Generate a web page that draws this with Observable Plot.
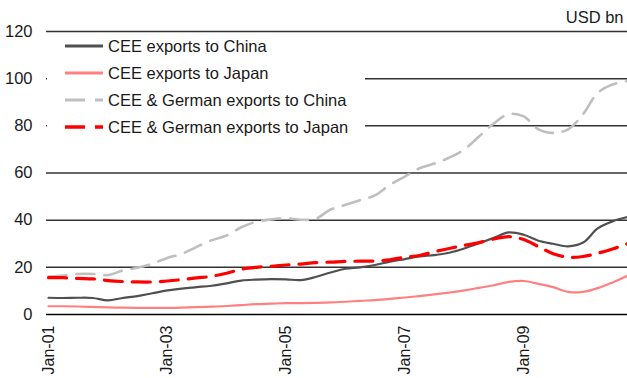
<!DOCTYPE html>
<html>
<head>
<meta charset="utf-8">
<script src="https://cdn.jsdelivr.net/npm/d3@7"></script>
<script src="https://cdn.jsdelivr.net/npm/@observablehq/plot@0.6"></script>
<style>
  html, body { margin: 0; padding: 0; background: #fff; }
  #wrap { position: relative; width: 627px; height: 378px; font-family: "Liberation Sans", Arial, sans-serif; }
  #legend { position: absolute; left: 47px; top: 34px; width: 318px; height: 106px; background: #fff; }
  .row { position: absolute; left: 0; height: 20px; display: flex; align-items: center; font-size: 16.5px; color: #1a1a1a; white-space: nowrap; }
  .row svg { margin-left: 18px; margin-right: 5px; }
</style>
</head>
<body>
<div id="wrap"></div>
<script>
// Quarterly observations, Jan 2001 .. Oct 2010 (USD bn)
const startYear = 2001;
const monthOffsets = [0,3,6,9,12,15,18,21,24,27,30,33,36,39,42,45,48,51,54,57,60,63,66,69,72,75,78,81,84,87,90,93,96,99,102,105,108,111,114,117];

const ceeChina = [7.1,7.0,7.1,7.0,6.0,7.0,7.8,9.0,10.2,11.0,11.6,12.2,13.2,14.4,14.8,15.0,14.9,14.6,15.9,17.8,19.4,20.0,21.0,22.4,23.5,24.6,25.2,26.2,28.0,30.2,32.5,34.8,33.8,31.3,30.0,28.9,30.5,36.5,39.5,41.3];
const ceeJapan = [3.5,3.5,3.4,3.2,3.0,2.9,2.8,2.8,2.8,2.9,3.1,3.3,3.6,4.0,4.4,4.6,4.8,4.8,4.9,5.1,5.4,5.8,6.1,6.6,7.2,7.8,8.5,9.3,10.2,11.3,12.4,13.8,14.2,13.0,11.6,9.6,9.6,11.2,13.6,16.4];
const ceeGerChina = [16.1,16.5,17.2,17.2,16.7,18.6,19.8,21.5,24.0,25.7,28.7,31.5,33.5,37.0,39.3,40.3,40.8,40.2,40.6,44.5,46.5,48.5,50.5,55.0,58.5,62.0,64.0,66.5,70.0,75.5,81.0,85.0,84.0,78.5,77.0,78.5,85.0,94.0,97.5,99.0];
const ceeGerJapan = [15.6,15.6,15.3,15.1,14.4,14.0,13.8,13.8,14.2,14.8,15.5,16.2,17.5,19.2,20.0,20.4,21.0,21.4,22.0,22.2,22.5,22.6,22.7,23.2,24.3,25.0,26.6,28.0,29.3,30.5,32.0,33.0,31.8,28.8,25.8,24.3,24.6,26.0,27.8,30.0];

const seriesNames = ["CEE exports to China", "CEE exports to Japan", "CEE & German exports to China", "CEE & German exports to Japan"];
const yTicks = [0, 20, 40, 60, 80, 100, 120];
const xTickYears = [2001, 2003, 2005, 2007, 2009];
const unitLabel = "USD bn";

const styles = [
  {stroke: "#505050", width: 2.2, dash: null},
  {stroke: "#ff8080", width: 2.2, dash: null},
  {stroke: "#bfbfbf", width: 2.6, dash: "18,10"},
  {stroke: "#ff0000", width: 3.2, dash: "18,10"}
];

const dates = monthOffsets.map(m => new Date(Date.UTC(startYear, m, 1)));
const allValues = [ceeChina, ceeJapan, ceeGerChina, ceeGerJapan];
const rows = allValues.map((vals, s) => vals.map((v, i) => ({date: dates[i], value: v, series: seriesNames[s]})));
const xTicks = xTickYears.map(y => new Date(Date.UTC(y, 0, 1)));

const lineMarks = rows.map((r, s) => Plot.line(r, {
  x: "date", y: "value",
  stroke: styles[s].stroke, strokeWidth: styles[s].width,
  strokeDasharray: styles[s].dash, curve: "catmull-rom"
}));

const chart = Plot.plot({
  width: 627,
  height: 378,
  marginLeft: 46,
  marginRight: 0,
  marginTop: 31,
  marginBottom: 64,
  style: {fontFamily: "Liberation Sans, Arial, sans-serif", fontSize: "16px", color: "#1a1a1a", background: "#fff"},
  x: {type: "utc", domain: [dates[0], dates[dates.length - 1]], range: [48, 627]},
  y: {domain: [0, 120]},
  marks: [
    Plot.ruleY(yTicks.filter(t => t > 0), {stroke: "#333", strokeWidth: 1.5, strokeOpacity: 1}),
    Plot.ruleY([0], {stroke: "#000", strokeWidth: 1.5}),
    Plot.axisY({ticks: yTicks, tickSize: 0, tickPadding: 14, label: null, fontSize: 16.5}),
    Plot.axisX({ticks: xTicks, tickFormat: d3.utcFormat("%b-%y"), tickSize: 0, tickPadding: 11, tickRotate: -90, label: null, fontSize: 16}),
    ...lineMarks,
    Plot.text([unitLabel], {frameAnchor: "top-right", dx: -4, dy: -9, lineAnchor: "bottom", textAnchor: "end", fontSize: 16.5, fill: "#1a1a1a"})
  ]
});

const wrap = document.getElementById("wrap");
wrap.appendChild(chart);

// legend overlay (white box as in reference)
const legend = document.createElement("div");
legend.id = "legend";
const rowTops = [2, 29, 56, 83];
seriesNames.forEach((name, s) => {
  const row = document.createElement("div");
  row.className = "row";
  row.style.top = rowTops[s] + "px";
  const st = styles[s];
  const dashAttr = st.dash ? `stroke-dasharray="20,10"` : "";
  row.innerHTML = `<svg width="38" height="6"><line x1="0" y1="3" x2="38" y2="3" stroke="${st.stroke}" stroke-width="${st.dash ? (s === 3 ? 3.5 : 3) : 3}" ${dashAttr}/></svg><span>${name}</span>`;
  legend.appendChild(row);
});
wrap.appendChild(legend);
</script>
</body>
</html>
